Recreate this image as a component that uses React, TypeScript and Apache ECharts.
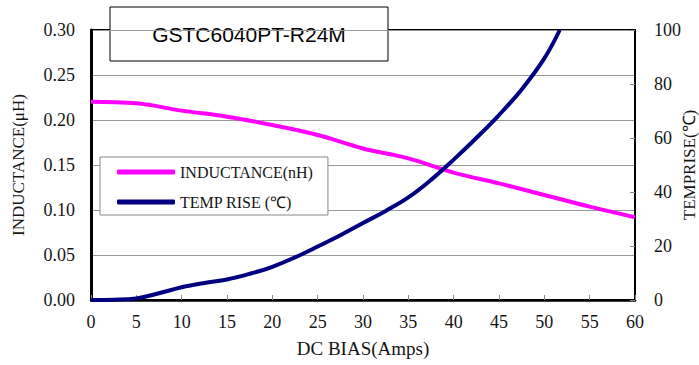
import React, { useEffect, useRef } from "react";
import * as echarts from "echarts";

const titleText = "GSTC6040PT-R24M";
const inductanceName = "INDUCTANCE(nH)";
const tempName = "TEMP RISE (℃)";

const biasInd = [0, 5, 10, 15, 20, 25, 30, 35, 40, 45, 50, 55, 60];
const inductance = [0.2203, 0.2185, 0.2104, 0.2037, 0.1944, 0.1833, 0.1684, 0.1574, 0.1415, 0.1296, 0.1167, 0.1037, 0.0919];

const biasTemp = [0, 2.5, 5, 7.5, 10, 12.5, 15, 17.5, 20, 22.5, 25, 27.5, 30, 32.5, 35, 37.5, 40, 42.5, 45, 47.5, 50, 51.7];
const tempRise = [0, 0.1, 0.6, 2.5, 4.7, 6.3, 7.6, 9.7, 12.3, 15.8, 19.8, 24, 28.5, 33, 38, 44.5, 52, 60, 68.5, 78, 89.5, 100];

const leftTicks = [0, 0.3, 0.05];
const rightTicks = [0, 100, 20];
const xTicks = [0, 60, 5];

const serif = "'Liberation Serif', 'Times New Roman', serif";
const textColor = "#151515";

export default function App() {
  const ref = useRef<HTMLDivElement>(null);
  useEffect(() => {
    if (!ref.current) return;
    const chart = echarts.init(ref.current, undefined, { renderer: "svg" });
    chart.setOption({
      animation: false,
      backgroundColor: "#fff",
      grid: {
        left: 91,
        right: 64,
        top: 30,
        bottom: 65,
        show: true,
        borderColor: "#000",
        borderWidth: 2,
        backgroundColor: "transparent",
        containLabel: false,
        outerBoundsMode: "none",
      },
      legend: {
        orient: "vertical",
        left: 100,
        top: 157,
        backgroundColor: "#fff",
        borderColor: "#888",
        borderWidth: 1,
        borderRadius: 0,
        padding: [7, 15, 5, 17],
        itemGap: 14,
        itemWidth: 58,
        itemHeight: 5,
        icon: "roundRect",
        textStyle: { fontFamily: serif, fontSize: 16, color: textColor },
        data: [inductanceName, tempName],
        z: 50,
      },
      xAxis: {
        type: "value",
        min: xTicks[0],
        max: xTicks[1],
        interval: xTicks[2],
        name: "DC BIAS(Amps)",
        nameLocation: "middle",
        nameGap: 39,
        nameMoveOverlap: false,
        nameTextStyle: { fontFamily: serif, fontSize: 19, color: textColor },
        axisLine: { lineStyle: { color: "#000", width: 2.5 } },
        axisTick: { inside: true, length: 5, lineStyle: { color: "#888" } },
        axisLabel: { fontFamily: serif, fontSize: 18, color: textColor, margin: 13 },
        splitLine: { show: false },
      },
      yAxis: [
        {
          type: "value",
          min: leftTicks[0],
          max: leftTicks[1],
          interval: leftTicks[2],
          name: "INDUCTANCE(μH)",
          nameLocation: "middle",
          nameGap: 64,
          nameMoveOverlap: false,
          nameTextStyle: { fontFamily: serif, fontSize: 17, color: textColor },
          axisLine: { show: true, lineStyle: { color: "#000", width: 3 } },
          axisTick: { show: false },
          axisLabel: {
            fontFamily: serif,
            fontSize: 18,
            color: textColor,
            margin: 16,
            formatter: (v: number) => v.toFixed(2),
          },
          splitLine: { show: true, lineStyle: { color: "#999", width: 1 } },
        },
        {
          type: "value",
          min: rightTicks[0],
          max: rightTicks[1],
          interval: rightTicks[2],
          position: "right",
          name: "TEMPRISE(℃)",
          nameLocation: "middle",
          nameGap: 46,
          nameMoveOverlap: false,
          nameTextStyle: { fontFamily: serif, fontSize: 17, color: textColor },
          axisLine: { show: true, lineStyle: { color: "#000", width: 2 } },
          axisTick: { show: true, inside: true, length: 5, lineStyle: { color: "#888" } },
          axisLabel: { fontFamily: serif, fontSize: 18, color: textColor, margin: 19 },
          splitLine: { show: false },
        },
      ],
      graphic: [
        {
          type: "group",
          z: 100,
          children: [
            {
              type: "rect",
              shape: { x: 110, y: 7, width: 278, height: 54 },
              style: { fill: "#fff", stroke: "#000", lineWidth: 1 },
            },
            {
              type: "text",
              x: 249,
              y: 34,
              style: {
                text: titleText,
                fontFamily: "'Liberation Sans', Arial, sans-serif",
                fontSize: 21,
                fill: "#000",
                align: "center",
                verticalAlign: "middle",
              },
            },
          ],
        },
      ],
      series: [
        {
          name: inductanceName,
          type: "line",
          yAxisIndex: 0,
          smooth: 0.4,
          showSymbol: false,
          symbol: "none",
          color: "#ff00ff",
          lineStyle: { color: "#ff00ff", width: 4 },
          data: biasInd.map((x, i) => [x, inductance[i]]),
          z: 3,
        },
        {
          name: tempName,
          type: "line",
          yAxisIndex: 1,
          smooth: 0.4,
          showSymbol: false,
          symbol: "none",
          color: "#000080",
          lineStyle: { color: "#000080", width: 4 },
          data: biasTemp.map((x, i) => [x, tempRise[i]]),
          z: 4,
        },
      ],
    });
    return () => chart.dispose();
  }, []);
  return (
    <div
      ref={ref}
      style={{ position: "fixed", left: 0, top: 0, width: 699, height: 365 }}
    />
  );
}
